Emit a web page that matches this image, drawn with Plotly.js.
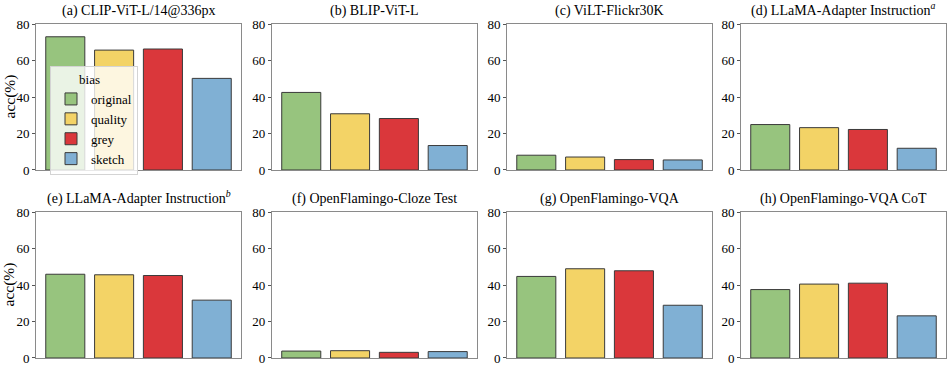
<!DOCTYPE html>
<html>
<head>
<meta charset="utf-8">
<script src="https://cdn.plot.ly/plotly-3.0.1.min.js"></script>
<style>
  html, body { margin: 0; padding: 0; background: #ffffff; }
  #chart { width: 951px; height: 369px; }
</style>
</head>
<body>
<div id="chart"></div>
<script>
const BIASES = ["original", "quality", "grey", "sketch"];
const BAR_COLORS = ["#97c47e", "#f3d366", "#da373b", "#80b0d4"];

const PANEL_TITLES = [
  "(a) CLIP-ViT-L/14@336px",
  "(b) BLIP-ViT-L",
  "(c) ViLT-Flickr30K",
  "(d) LLaMA-Adapter Instruction<sup><i>a</i></sup>",
  "(e) LLaMA-Adapter Instruction<sup><i>b</i></sup>",
  "(f) OpenFlamingo-Cloze Test",
  "(g) OpenFlamingo-VQA",
  "(h) OpenFlamingo-VQA CoT",
];

// accuracy (%) per bias: original, quality, grey, sketch
const clipVitL = [73.0, 65.7, 66.3, 50.2];
const blipVitL = [42.5, 30.8, 28.2, 13.4];
const viltFlickr = [8.1, 7.1, 5.7, 5.5];
const llamaAdapterA = [24.9, 23.2, 22.2, 11.9];
const llamaAdapterB = [45.9, 45.6, 45.2, 31.7];
const flamingoCloze = [3.8, 4.0, 3.1, 3.5];
const flamingoVqa = [44.7, 48.9, 47.8, 28.9];
const flamingoVqaCot = [37.5, 40.5, 41.0, 23.1];

const PANEL_VALUES = [
  clipVitL, blipVitL, viltFlickr, llamaAdapterA,
  llamaAdapterB, flamingoCloze, flamingoVqa, flamingoVqaCot,
];

const FONT = '"Liberation Serif", "Times New Roman", serif';
const X_DOMAINS = [[0, 0.2253], [0.2593, 0.4846], [0.5176, 0.7429], [0.7747, 1.0]];
const Y_DOMAINS = [[0.5629, 1.0], [0, 0.4371]];
const SPINE = "#8a8a8a";

const traces = [];
const layout = {
  width: 951,
  height: 369,
  margin: { l: 36, r: 5, t: 24, b: 11 },
  paper_bgcolor: "#ffffff",
  plot_bgcolor: "#ffffff",
  font: { family: FONT, size: 12.5, color: "#000000" },
  barmode: "overlay",
  bargap: 0.2,
  showlegend: true,
  legend: {
    x: 0.0154,
    y: 0.874,
    xanchor: "left",
    yanchor: "top",
    bgcolor: "rgba(255,255,255,0.8)",
    bordercolor: "#d4d4d4",
    borderwidth: 1,
    font: { family: FONT, size: 13, color: "#000000" },
    title: {
      text: "&nbsp;&nbsp;&nbsp;&nbsp;&nbsp;&nbsp;&nbsp;&nbsp;bias",
      side: "top",
      font: { family: FONT, size: 13 },
    },
    tracegroupgap: 0,
    itemwidth: 30,
  },
  annotations: [],
};

PANEL_VALUES.forEach((values, panelIndex) => {
  const n = panelIndex + 1;
  const suffix = n === 1 ? "" : String(n);
  const col = panelIndex % 4;
  const row = Math.floor(panelIndex / 4);

  BIASES.forEach((bias, biasIndex) => {
    traces.push({
      type: "bar",
      x: [bias],
      y: [values[biasIndex]],
      xaxis: "x" + suffix,
      yaxis: "y" + suffix,
      name: bias,
      legendgroup: bias,
      showlegend: panelIndex === 0,
      marker: {
        color: BAR_COLORS[biasIndex],
        line: { color: "#3a3a3a", width: 1 },
      },
      hovertemplate: `${bias}: %{y:.1f}%<extra></extra>`,
    });
  });

  layout["xaxis" + suffix] = {
    domain: X_DOMAINS[col],
    anchor: "y" + suffix,
    type: "category",
    categoryorder: "array",
    categoryarray: BIASES,
    range: [-0.6, 3.6],
    showticklabels: false,
    ticks: "",
    showgrid: false,
    zeroline: false,
    showline: true,
    mirror: true,
    linecolor: SPINE,
    linewidth: 1,
    fixedrange: true,
  };
  layout["yaxis" + suffix] = {
    domain: Y_DOMAINS[row],
    anchor: "x" + suffix,
    range: [0, 80],
    tickvals: [0, 20, 40, 60, 80],
    ticks: "outside",
    ticklen: 3,
    tickcolor: "#555555",
    tickfont: { family: FONT, size: 13, color: "#000000" },
    showgrid: false,
    zeroline: false,
    showline: true,
    mirror: true,
    linecolor: SPINE,
    linewidth: 1,
    fixedrange: true,
  };

  layout.annotations.push({
    text: PANEL_TITLES[panelIndex],
    xref: "paper",
    yref: "paper",
    x: (X_DOMAINS[col][0] + X_DOMAINS[col][1]) / 2,
    y: Y_DOMAINS[row][1],
    xanchor: "center",
    yanchor: "bottom",
    yshift: 3,
    showarrow: false,
    font: { family: FONT, size: 14, color: "#000000" },
  });

  if (col === 0) {
    layout.annotations.push({
      text: "acc(%)",
      textangle: -90,
      xref: "paper",
      yref: "paper",
      x: 0,
      xshift: -26.5,
      y: (Y_DOMAINS[row][0] + Y_DOMAINS[row][1]) / 2,
      xanchor: "center",
      yanchor: "middle",
      showarrow: false,
      font: { family: FONT, size: 15.5, color: "#000000" },
    });
  }
});

Plotly.newPlot("chart", traces, layout, { displayModeBar: false, staticPlot: true });
</script>
</body>
</html>
